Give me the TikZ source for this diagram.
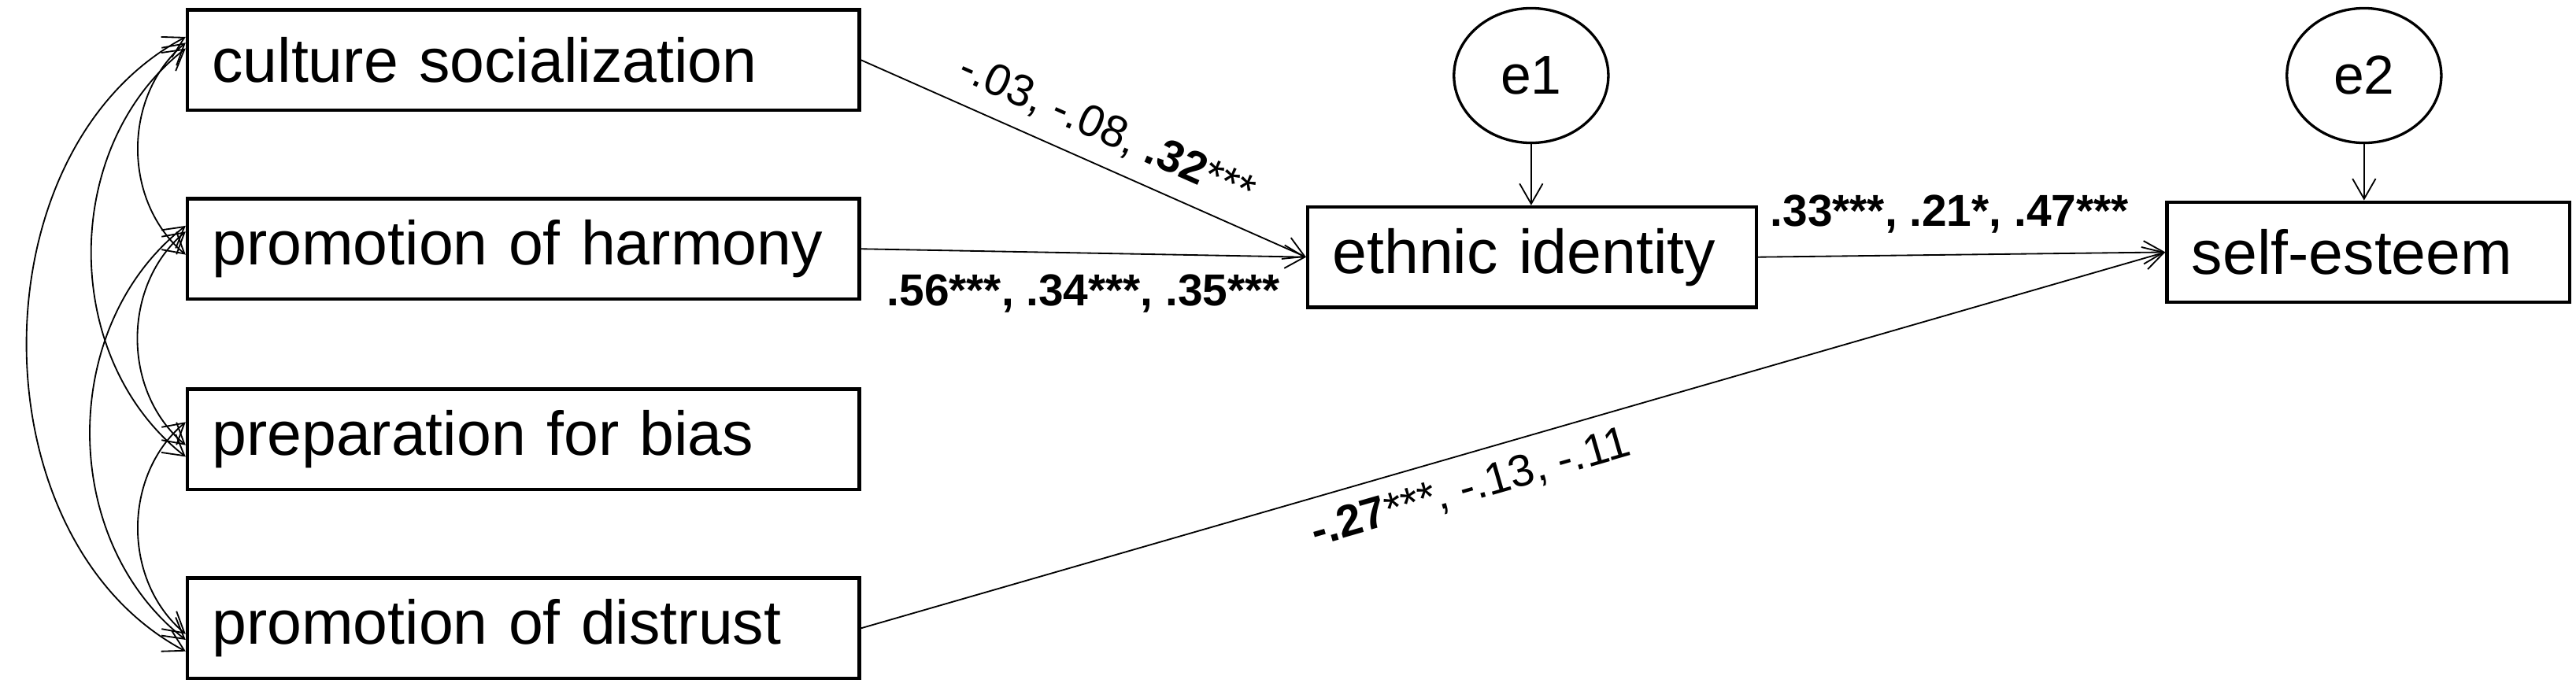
\documentclass[tikz,border=0pt]{standalone}
\usepackage{fontspec}
\setmainfont{Liberation Sans}
\usetikzlibrary{arrows.meta,shapes.geometric}
\tikzset{
  varbox/.style={draw, line width=1.2pt, minimum height=1.22cm, text width=#1, inner xsep=0.3cm, anchor=north west, font=\fontsize{21.5}{25}\selectfont},
  errcirc/.style={draw, ellipse, line width=0.9pt, minimum width=1.88cm, minimum height=1.64cm, font=\fontsize{19}{22}\selectfont},
  regpath/.style={-{Straight Barb[length=7pt,width=8pt]}, line width=0.5pt},
  cov/.style={{Straight Barb[length=7pt,width=8pt]}-{Straight Barb[length=7pt,width=8pt]}, line width=0.5pt},
  coef/.style={font=\fontsize{15.5}{17}\selectfont}
}
\begin{document}
\begin{tikzpicture}
  \useasboundingbox (0,0) rectangle (31.36,-8.36);
  % exogenous predictors
  \node[varbox=7.58cm] (cs) at (2.26,-0.10) {culture socialization};
  \node[varbox=7.58cm] (ph) at (2.26,-2.40) {promotion of harmony};
  \node[varbox=7.58cm] (pb) at (2.26,-4.72) {preparation for bias};
  \node[varbox=7.58cm] (pd) at (2.26,-7.02) {promotion of distrust};
  % mediator and outcome
  \node[varbox=4.86cm] (ei) at (15.90,-2.50) {ethnic identity};
  \node[varbox=4.30cm] (se) at (26.36,-2.44) {self-esteem};
  % error terms
  \node[errcirc] (e1) at (18.64,-0.92) {e1};
  \node[errcirc] (e2) at (28.78,-0.92) {e2};
  \draw[regpath] (e1) -- (e1 |- ei.north);
  \draw[regpath] (e2) -- (e2 |- se.north);
  % regression paths
  \draw[regpath] (cs.east) -- (ei.west) node[coef, pos=0.52, above, sloped, yshift=2pt] {-.03, -.08, \textbf{.32}***};
  \draw[regpath] (ph.east) -- (ei.west) node[coef, pos=0.5, below, yshift=-4pt] {\textbf{.56***, .34***, .35***}};
  \draw[regpath] (ei.east) -- (se.west) node[coef, pos=0.47, above, yshift=4pt] {\textbf{.33***, .21*, .47***}};
  \draw[regpath] (pd.east) -- (se.west) node[coef, pos=0.46, below, sloped, yshift=-2pt] {\textbf{-.27}***, -.13, -.11};
  % covariances
  \draw[cov] ([yshift=6pt]cs.west) to[bend right=50] ([yshift=-2pt]ph.west);
  \draw[cov] ([yshift=4pt]cs.west) to[bend right=52] ([yshift=-6pt]pb.west);
  \draw[cov] ([yshift=8pt]cs.west) to[bend right=62] ([yshift=-8pt]pd.west);
  \draw[cov] ([yshift=6pt]ph.west) to[bend right=50] ([yshift=-2pt]pb.west);
  \draw[cov] ([yshift=8pt]ph.west) to[bend right=52] ([yshift=-4pt]pd.west);
  \draw[cov] ([yshift=6pt]pb.west) to[bend right=50] ([yshift=-2pt]pd.west);
\end{tikzpicture}
\end{document}
